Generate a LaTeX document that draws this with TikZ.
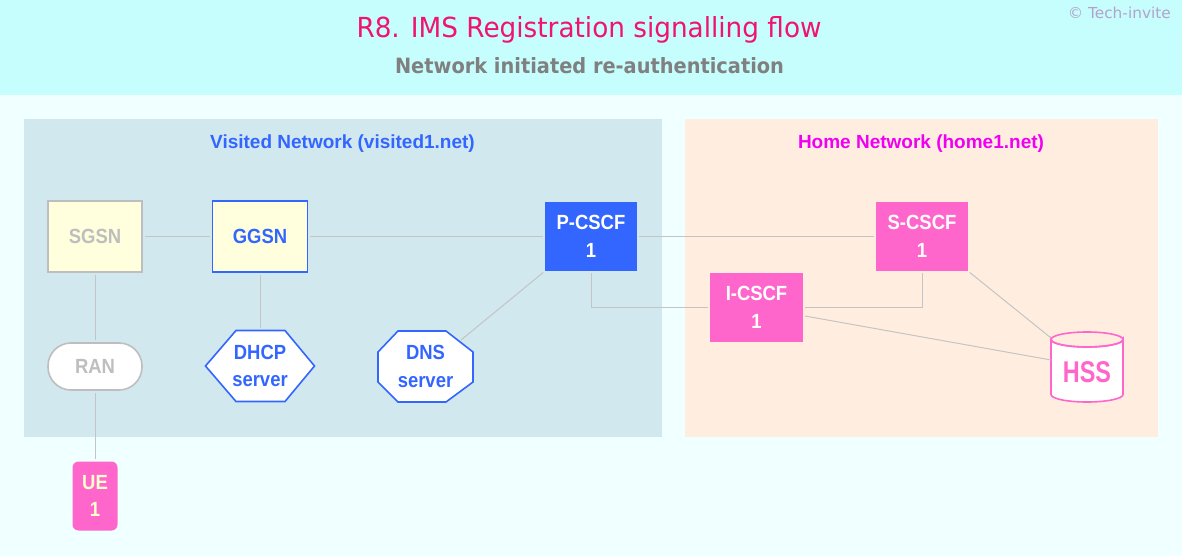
\documentclass[tikz,border=0pt]{standalone}
\usepackage{fontspec}
\usepackage{graphicx}
\setmainfont{Liberation Sans}
\newfontfamily\dvfont{DejaVu Sans}
\newcommand{\nt}[1]{\scalebox{0.9}[1]{#1}}
\definecolor{pagebg}{HTML}{F0FFFF}
\definecolor{headbg}{HTML}{C6FEFE}
\definecolor{visbg}{HTML}{D1E8EF}
\definecolor{homebg}{HTML}{FFEEE0}
\definecolor{titlec}{HTML}{F0146E}
\definecolor{subc}{HTML}{808080}
\definecolor{copyc}{HTML}{B4A2CC}
\definecolor{netblue}{HTML}{3366FF}
\definecolor{netmag}{HTML}{F000F0}
\definecolor{pink}{HTML}{FF66CC}
\definecolor{lyellow}{HTML}{FFFFDD}
\definecolor{uetext}{HTML}{FFFFCC}
\definecolor{grayb}{HTML}{BEBEBE}
\definecolor{linec}{HTML}{C4C4C4}
\begin{document}
\begin{tikzpicture}[x=1pt,y=-1pt,
  nodefont/.style={font=\fontsize{20.5}{27.5}\selectfont\bfseries, align=center, inner sep=0pt},
  labelfont/.style={font=\fontsize{19}{22}\selectfont\bfseries, inner sep=0pt},
  graybox/.style={nodefont, draw=grayb, line width=1.6pt, fill=lyellow, text=grayb},
  ggsnbox/.style={nodefont, draw=netblue, line width=1.6pt, fill=lyellow, text=netblue},
  bluebox/.style={nodefont, fill=netblue, text=white},
  pinkbox/.style={nodefont, fill=pink, text=white},
  shapeline/.style={line width=1.6pt},
  conn/.style={draw=linec, line width=1pt},
  gap/.style={shorten <=2pt, shorten >=2pt}
]
\useasboundingbox (0,0) rectangle (1182,556);
\fill[pagebg] (0,0) rectangle (1182,556);
\fill[headbg] (0,0) rectangle (1182,95);

% title texts
\node[anchor=base, inner sep=0pt, text=titlec] (title) at (589,38)
  {\resizebox{465pt}{21pt}{\dvfont\fontsize{28}{30}\selectfont R8. IMS Registration signalling flow}};
\node[anchor=base, inner sep=0pt, text=subc] (subtitle) at (589.5,73.3)
  {\resizebox{389pt}{16pt}{\dvfont\bfseries\fontsize{21}{24}\selectfont Network initiated re-authentication}};
\node[anchor=base east, inner sep=0pt, text=copyc] (copy) at (1171,18.3)
  {\resizebox{103pt}{11.5pt}{\dvfont\fontsize{15}{17}\selectfont © Tech-invite}};

% network areas
\fill[visbg] (24,119) rectangle (662,437);
\fill[homebg] (685,119) rectangle (1158,437);
\node[anchor=base, labelfont, text=netblue] (vislabel) at (342.5,148.3) {Visited Network (visited1.net)};
\node[anchor=base, labelfont, text=netmag] (homelabel) at (921,148.6) {Home Network (home1.net)};

% nodes
\node[graybox, minimum width=94pt, minimum height=71pt] (sgsn) at (95,236.5) {\nt{SGSN}};
\node[ggsnbox, minimum width=95pt, minimum height=71pt] (ggsn) at (260,236.5) {\nt{GGSN}};
\node[bluebox, minimum width=92pt, minimum height=69pt] (pcscf) at (591,236.5) {\nt{P-CSCF}\\\nt{1}};
\node[pinkbox, minimum width=92pt, minimum height=69pt] (scscf) at (922,236.5) {\nt{S-CSCF}\\\nt{1}};
\node[pinkbox, minimum width=93pt, minimum height=69pt] (icscf) at (756.5,307.5) {\nt{I-CSCF}\\\nt{1}};
\node[nodefont, draw=grayb, line width=1.6pt, fill=white, text=grayb, rounded corners=23pt,
      minimum width=94pt, minimum height=47pt] (ran) at (95,366.5) {\nt{RAN}};
\node[pinkbox, text=uetext, rounded corners=6pt, minimum width=45pt, minimum height=69pt] (ue) at (95,496) {\nt{UE}\\\nt{1}};

% DHCP hexagon
\filldraw[shapeline, draw=netblue, fill=white]
  (205.5,366) -- (236,330.5) -- (285,330.5) -- (314.5,366) -- (285,401.5) -- (236,401.5) -- cycle;
\node[nodefont, text=netblue, minimum width=109pt, minimum height=71pt] (dhcp) at (260,366) {\nt{DHCP}\\\nt{server}};

% DNS octagon
\filldraw[shapeline, draw=netblue, fill=white]
  (398,331) -- (446,331) -- (473,352) -- (473,382) -- (446,402) -- (398,402) -- (378,382) -- (378,352) -- cycle;
\node[nodefont, text=netblue, minimum width=95pt, minimum height=71pt] (dns) at (425.5,366.5) {\nt{DNS}\\\nt{server}};

% HSS cylinder
\filldraw[shapeline, draw=pink, fill=white]
  (1051,339.5) -- (1051,394.5) arc (180:0:36 and 7.5) -- (1123,339.5) arc (0:180:36 and 7.5) -- cycle;
\draw[shapeline, draw=pink] (1087,339.5) ellipse (36 and 7.5);
\node[inner sep=0pt, text=pink] (hss) at (1087,372)
  {\scalebox{0.78}[1]{\fontsize{30}{32}\selectfont\bfseries HSS}};

% connector end points
\coordinate (dnsA) at (461,340);
\coordinate (icB) at (805,316);
\coordinate (hssA) at (1051,338);
\coordinate (hssB) at (1051,360);

% connectors
\draw[conn, gap] (sgsn.east) -- (ggsn.west);
\draw[conn, gap] (ggsn.east) -- (pcscf.west);
\draw[conn, gap] (pcscf.east) -- (scscf.west);
\draw[conn, gap] (sgsn.south) -- (ran.north);
\draw[conn, gap] (ran.south) -- (ue.north);
\draw[conn, gap] (ggsn.south) -- (dhcp.north);
\draw[conn, shorten <=2pt] (pcscf.south west) -- (dnsA);
\draw[conn, gap] (pcscf.south) |- (icscf.west);
\draw[conn, gap] (icscf.east) -| (scscf.south);
\draw[conn, shorten <=2pt] (scscf.south east) -- (hssA);
\draw[conn] (icB) -- (hssB);
\end{tikzpicture}
\end{document}
